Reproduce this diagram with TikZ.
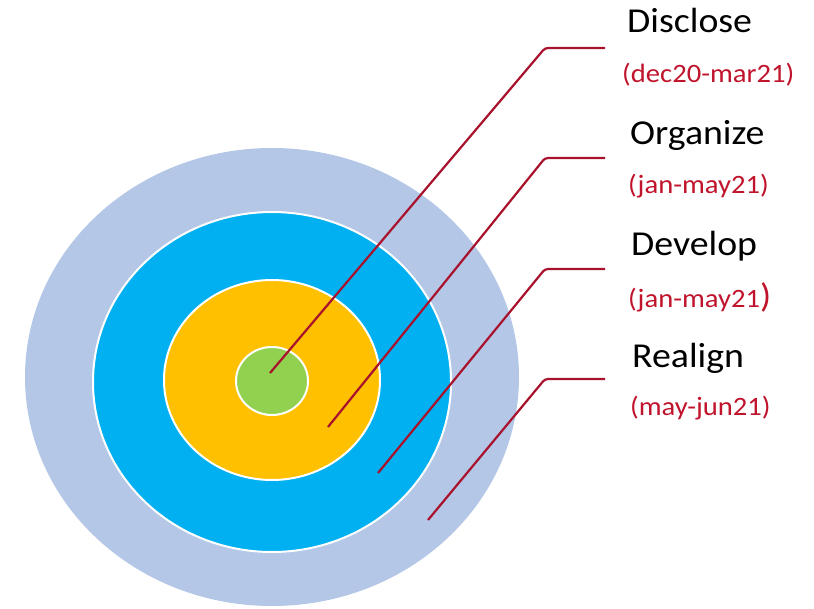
\documentclass[tikz,border=0pt]{standalone}
\usepackage{fontspec}
\setmainfont{Carlito}[FakeStretch=1.08]
\usepackage{xcolor}
\usetikzlibrary{positioning}
\definecolor{ringgrey}{HTML}{B4C7E7}
\definecolor{ringblue}{HTML}{00B0F0}
\definecolor{ringyellow}{HTML}{FFC000}
\definecolor{ringgreen}{HTML}{92D050}
\definecolor{leaderred}{HTML}{A8122C}
\definecolor{datered}{HTML}{C0142C}
\tikzset{
    target/.style={x=1pt, y=-1pt},
    target ring/.style={draw=white, line width=2pt},
    phase label/.style={anchor=base west, inner sep=0pt,
        font=\fontsize{35}{40}\selectfont},
    phase date/.style={anchor=west, inner sep=0pt, text=datered,
        font=\fontsize{26.5}{30}\selectfont},
    phase leader/.style={draw=leaderred, line width=2.2pt, rounded corners=3pt},
}
\begin{document}
\begin{tikzpicture}[target]
            \useasboundingbox (0,0) rectangle (814,608);
            % rings of the target
            \fill[ringgrey] (272,377) ellipse [x radius=247, y radius=229];
            \filldraw[target ring, fill=ringblue] (272,382) ellipse [x radius=179, y radius=170];
            \filldraw[target ring, fill=ringyellow] (272,380) ellipse [x radius=108, y radius=100];
            \filldraw[target ring, fill=ringgreen] (272,381) ellipse [x radius=36, y radius=34];
            % phases
            \node[phase label] (disclose) at (627,32) {Disclose};
            \node[phase date] (disclosedate) at (622,75) {(dec20-mar21)};
            \node[phase label] (organize) at (630,144) {Organize};
            \node[phase date] (organizedate) at (628,186) {(jan-may21)};
            \node[phase label] (develop) at (631,255) {Develop};
            \node[phase date] (developdate) at (628,297) {(jan-may21{\fontsize{34}{34}\selectfont)}};
            \node[phase label] (realign) at (632,367) {Realign};
            \node[phase date] (realigndate) at (630,408) {(may-jun21)};
            % leaders
            \coordinate (disclosefoot) at (270,373);
            \coordinate (discloseknee) at (545,48);
            \coordinate (discloseend) at (605,48);
            \coordinate (organizefoot) at (328,427);
            \coordinate (organizeknee) at (545,158);
            \coordinate (organizeend) at (605,158);
            \coordinate (developfoot) at (378,473);
            \coordinate (developknee) at (545,269);
            \coordinate (developend) at (605,269);
            \coordinate (realignfoot) at (428,520);
            \coordinate (realignknee) at (545,379);
            \coordinate (realignend) at (605,379);
            \draw[phase leader] (disclosefoot) -- (discloseknee) -- (discloseend);
            \draw[phase leader] (organizefoot) -- (organizeknee) -- (organizeend);
            \draw[phase leader] (developfoot) -- (developknee) -- (developend);
            \draw[phase leader] (realignfoot) -- (realignknee) -- (realignend);
        \end{tikzpicture}
\end{document}
